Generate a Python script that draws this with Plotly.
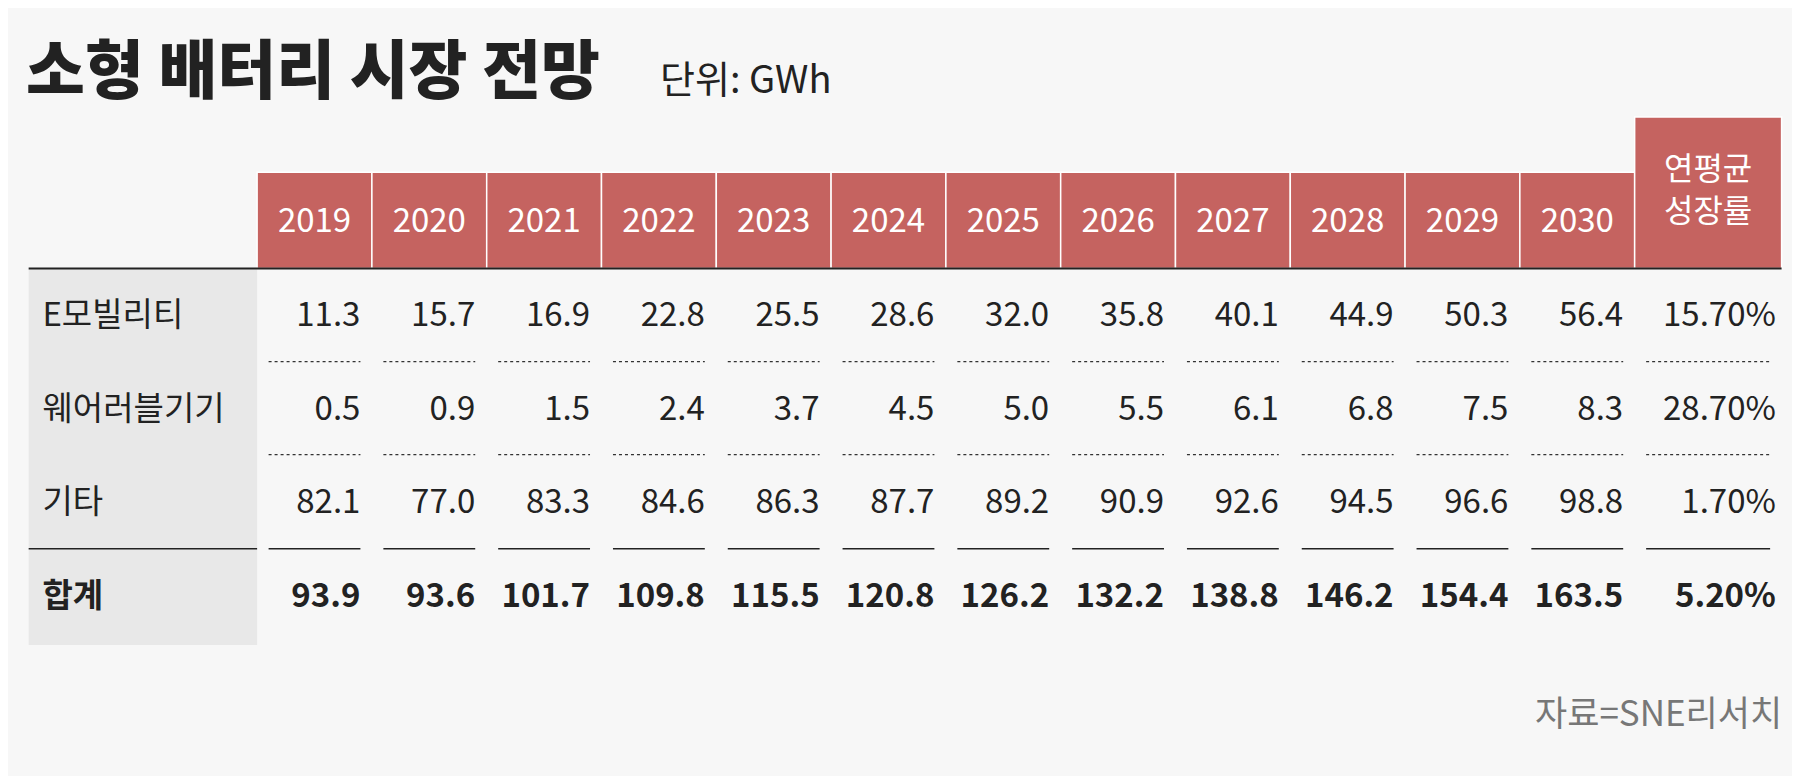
import plotly.graph_objects as go

years = ["2019","2020","2021","2022","2023","2024","2025","2026","2027","2028","2029","2030"]
rows = ["E모빌리티", "웨어러블기기", "기타", "합계"]
emob = [11.3,15.7,16.9,22.8,25.5,28.6,32.0,35.8,40.1,44.9,50.3,56.4]
wear = [0.5,0.9,1.5,2.4,3.7,4.5,5.0,5.5,6.1,6.8,7.5,8.3]
etc_ = [82.1,77.0,83.3,84.6,86.3,87.7,89.2,90.9,92.6,94.5,96.6,98.8]
total = [93.9,93.6,101.7,109.8,115.5,120.8,126.2,132.2,138.8,146.2,154.4,163.5]
cagr = ["15.70%","28.70%","1.70%","5.20%"]
title = "소형 배터리 시장 전망"
unit = "단위: GWh"
source = "자료=SNE리서치"

F = "Noto Sans CJK KR"
RED = "#c56360"
W, H = 1568, 676
x0, cw = 217, 100
gx0, gx1 = 1417, 1545
row_y = [270, 352, 433, 515]
fig = go.Figure()
shapes = []
shapes.append(dict(type="rect", x0=18, x1=217, y0=227, y1=555, fillcolor="#e8e8e8", line_width=0, layer="below"))
for i in range(12):
    shapes.append(dict(type="rect", x0=x0+i*cw, x1=x0+(i+1)*cw, y0=143, y1=227, fillcolor=RED,
                       line=dict(color="white", width=1.5), layer="below"))
shapes.append(dict(type="rect", x0=gx0, x1=gx1, y0=95, y1=227, fillcolor=RED,
                   line=dict(color="white", width=1.5), layer="below"))
shapes.append(dict(type="line", x0=18, x1=gx1, y0=227, y1=227, line=dict(color="#222", width=2)))
cols = [(x0+i*cw, x0+(i+1)*cw) for i in range(12)] + [(gx0, gx1)]
for a, b in cols:
    for yy in (308, 389):
        shapes.append(dict(type="line", x0=a+10, x1=b-10, y0=yy, y1=yy, line=dict(color="#333", width=1.2, dash="dot")))
    shapes.append(dict(type="line", x0=a+10, x1=b-10, y0=471, y1=471, line=dict(color="#222", width=1.5)))
shapes.append(dict(type="line", x0=18, x1=217, y0=471, y1=471, line=dict(color="#222", width=1.5)))

fig.add_trace(go.Scatter(x=[x0+i*cw+cw/2 for i in range(12)], y=[188]*12, text=years, mode="text",
                         textfont=dict(family=F, size=33, color="white"), hoverinfo="skip"))
fig.add_trace(go.Scatter(x=[(gx0+gx1)/2], y=[161], text=["연평균<br>성장률"], mode="text",
                         textfont=dict(family=F, size=32, color="white"), hoverinfo="skip"))
for r, yy in zip(rows, row_y):
    fig.add_trace(go.Scatter(x=[30], y=[yy], text=[r], mode="text", textposition="middle right",
                             textfont=dict(family=F, size=33, color="#222", weight=700 if r == "합계" else 400), hoverinfo="skip"))
for vals, yy, bold in [(emob, row_y[0], False), (wear, row_y[1], False), (etc_, row_y[2], False), (total, row_y[3], True)]:
    fig.add_trace(go.Scatter(x=[x0+(i+1)*cw-10 for i in range(12)], y=[yy]*12, text=[f"{v:.1f}" for v in vals],
                             mode="text", textposition="middle left",
                             textfont=dict(family=F, size=33, color="#222", weight=700 if bold else 400), hoverinfo="skip"))
fig.add_trace(go.Scatter(x=[gx1-5]*3, y=row_y[:3], text=cagr[:3], mode="text", textposition="middle left",
                         textfont=dict(family=F, size=33, color="#222", weight=400), hoverinfo="skip"))
fig.add_trace(go.Scatter(x=[gx1-5], y=[row_y[3]], text=[cagr[3]], mode="text", textposition="middle left",
                         textfont=dict(family=F, size=33, color="#222", weight=700), hoverinfo="skip"))

ann = [
    dict(x=14, y=50, text=title, showarrow=False, xanchor="left", yanchor="middle",
         font=dict(family=F, size=64, color="#222", weight=900)),
    dict(x=566, y=60, text=unit, showarrow=False, xanchor="left", yanchor="middle",
         font=dict(family=F, size=38, color="#222")),
    dict(x=1547, y=612, text=source, showarrow=False, xanchor="right", yanchor="middle",
         font=dict(family=F, size=35, color="#777")),
]
fig.update_layout(width=1800, height=776, margin=dict(l=0, r=0, t=0, b=0),
                  paper_bgcolor="#f7f7f7", plot_bgcolor="#f7f7f7", showlegend=False,
                  xaxis=dict(range=[0, W], visible=False, fixedrange=True),
                  yaxis=dict(range=[H, 0], visible=False, fixedrange=True),
                  shapes=shapes, annotations=ann)
fig.write_html("out.html")
